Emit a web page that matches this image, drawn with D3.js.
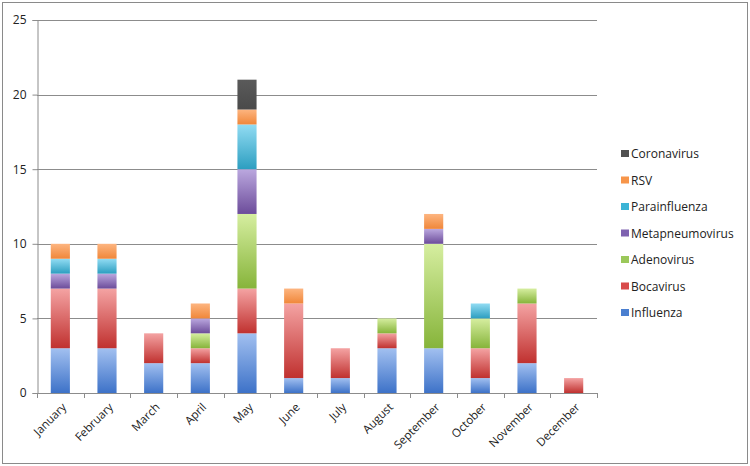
<!DOCTYPE html>
<html>
<head>
<meta charset="utf-8">
<script src="https://cdn.jsdelivr.net/npm/d3@7"></script>
<style>
  body { margin: 0; background: #fff; }
  text { font-family: "Open Sans", "DejaVu Sans", sans-serif; }
</style>
</head>
<body>
<div id="chart"></div>
<script>
const months = ['January', 'February', 'March', 'April', 'May', 'June', 'July', 'August', 'September', 'October', 'November', 'December'];
const series = ['Influenza', 'Bocavirus', 'Adenovirus', 'Metapneumovirus', 'Parainfluenza', 'RSV', 'Coronavirus'];
const influenza       = [3, 3, 2, 2, 4, 1, 1, 3, 3, 1, 2, 0];
const bocavirus       = [4, 4, 2, 1, 3, 5, 2, 1, 0, 2, 4, 1];
const adenovirus      = [0, 0, 0, 1, 5, 0, 0, 1, 7, 2, 1, 0];
const metapneumovirus = [1, 1, 0, 1, 3, 0, 0, 0, 1, 0, 0, 0];
const parainfluenza   = [1, 1, 0, 0, 3, 0, 0, 0, 0, 1, 0, 0];
const rsv             = [1, 1, 0, 1, 1, 1, 0, 0, 1, 0, 0, 0];
const coronavirus     = [0, 0, 0, 0, 2, 0, 0, 0, 0, 0, 0, 0];
const yTicks = [0, 5, 10, 15, 20, 25];

// light top / dark bottom for each series
const colors = {
  Influenza:       ['#a2c0f0', '#3d72c8'],
  Bocavirus:       ['#f4a3a3', '#c0312f'],
  Adenovirus:      ['#d6eea0', '#86b43a'],
  Metapneumovirus: ['#bba8df', '#6c4c9a'],
  Parainfluenza:   ['#92dcf3', '#2c9ec0'],
  RSV:             ['#fdb580', '#f0873a'],
  Coronavirus:     ['#5a5a5a', '#4a4a4a']
};
const legendColors = {
  Influenza: '#4a7fd0', Bocavirus: '#d84b4b', Adenovirus: '#9bc85a',
  Metapneumovirus: '#7e62b0', Parainfluenza: '#3cb4d6', RSV: '#f7954a', Coronavirus: '#505050'
};

const values = [influenza, bocavirus, adenovirus, metapneumovirus, parainfluenza, rsv, coronavirus];
const rows = months.map((m, i) => {
  const r = { month: m };
  series.forEach((s, j) => r[s] = values[j][i]);
  return r;
});

const width = 750;
const height = 466;
const margin = { top: 20, right: 153, bottom: 73, left: 37 };

const svg = d3.select('#chart')
  .append('svg')
  .attr('width', width)
  .attr('height', height)
  .attr('viewBox', [0, 0, width, height]);

// outer frame
svg.append('rect')
  .attr('x', 2.5).attr('y', 2.5)
  .attr('width', width - 5).attr('height', height - 5)
  .attr('fill', 'none').attr('stroke', '#8a8a8a').attr('stroke-width', 1);

const defs = svg.append('defs');
series.forEach(s => {
  const g = defs.append('linearGradient')
    .attr('id', 'grad-' + s)
    .attr('x1', 0).attr('y1', 0).attr('x2', 0).attr('y2', 1);
  g.append('stop').attr('offset', '0%').attr('stop-color', colors[s][0]);
  g.append('stop').attr('offset', '100%').attr('stop-color', colors[s][1]);
});

const x = d3.scaleBand()
  .domain(months)
  .range([margin.left, width - margin.right])
  .paddingInner(0.59)
  .paddingOuter(0.295);

const y = d3.scaleLinear()
  .domain([0, 25])
  .range([height - margin.bottom, margin.top]);

// gridlines
svg.append('g')
  .selectAll('line')
  .data(yTicks.slice(1))
  .join('line')
  .attr('x1', margin.left)
  .attr('x2', width - margin.right)
  .attr('y1', d => Math.round(y(d)) + 0.5)
  .attr('y2', d => Math.round(y(d)) + 0.5)
  .attr('stroke', '#8c8c8c');

const stack = d3.stack().keys(series)(rows);

svg.append('g')
  .selectAll('g')
  .data(stack)
  .join('g')
  .attr('fill', d => `url(#grad-${d.key})`)
  .selectAll('rect')
  .data(d => d.filter(p => p[1] > p[0]))
  .join('rect')
  .attr('x', d => x(d.data.month))
  .attr('y', d => y(d[1]))
  .attr('height', d => y(d[0]) - y(d[1]))
  .attr('width', x.bandwidth());

// y axis
const yAxis = svg.append('g')
  .attr('transform', `translate(${margin.left + 0.5}, 0)`)
  .call(d3.axisLeft(y).tickValues(yTicks).tickSize(5).tickPadding(6));
yAxis.selectAll('line, path').attr('stroke', '#8c8c8c');
yAxis.selectAll('text').attr('font-size', '12px').attr('fill', '#222');

// x axis with ticks between categories
const x0 = height - margin.bottom;
const xAxis = svg.append('g');
xAxis.append('line')
  .attr('x1', margin.left).attr('x2', width - margin.right)
  .attr('y1', x0 + 0.5).attr('y2', x0 + 0.5)
  .attr('stroke', '#8c8c8c');
const step = x.step();
xAxis.selectAll('line.tick')
  .data(d3.range(months.length + 1))
  .join('line')
  .attr('class', 'tick')
  .attr('x1', i => Math.round(margin.left + i * step) + 0.5)
  .attr('x2', i => Math.round(margin.left + i * step) + 0.5)
  .attr('y1', x0).attr('y2', x0 + 5)
  .attr('stroke', '#8c8c8c');
xAxis.selectAll('text')
  .data(months)
  .join('text')
  .attr('transform', d => `translate(${x(d) + x.bandwidth() / 2 + 4}, ${x0 + 12}) rotate(-45)`)
  .attr('text-anchor', 'end')
  .attr('dy', '0.35em')
  .attr('font-size', '11.5px')
  .attr('fill', '#222')
  .text(d => d);

// legend
const legend = svg.append('g')
  .selectAll('g')
  .data(series.slice().reverse())
  .join('g')
  .attr('transform', (d, i) => `translate(621, ${154 + i * 26.5})`);
legend.append('rect')
  .attr('x', 0).attr('y', -4)
  .attr('width', 8).attr('height', 7)
  .attr('fill', d => legendColors[d]);
legend.append('text')
  .attr('x', 10).attr('dy', '0.35em')
  .attr('font-size', '12px')
  .attr('fill', '#222')
  .text(d => d);
</script>
</body>
</html>
